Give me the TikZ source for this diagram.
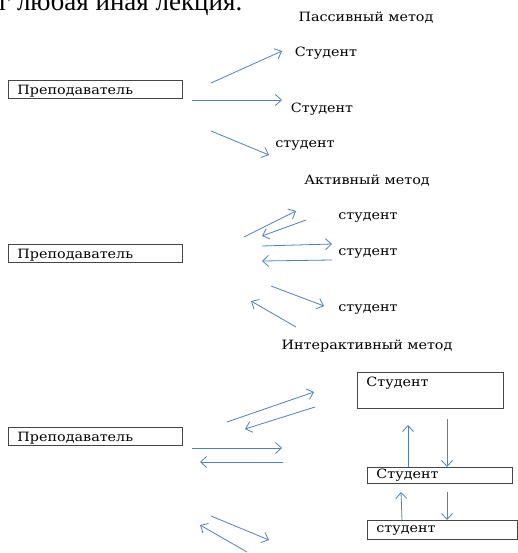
\documentclass[tikz,border=0pt]{standalone}
\usepackage{fontspec}
\setmainfont{Liberation Serif}
\newfontfamily\labelfont[FakeStretch=1.12]{DejaVu Serif}
\usetikzlibrary{arrows.meta}
\definecolor{arrowblue}{RGB}{79,129,189}
\definecolor{boxgray}{RGB}{70,70,70}

\tikzset{
  lbl/.style={inner sep=0pt, font=\labelfont\fontsize{12.8}{14}\selectfont},
  teacherbox/.style={draw=boxgray, line width=0.9pt, text width=156pt, inner xsep=9pt,
    inner ysep=1pt, text height=13.5pt, text depth=2.5pt, align=left, anchor=north west,
    font=\labelfont\fontsize{12.8}{14}\selectfont},
  studbox/.style={draw=boxgray, line width=0.9pt, inner xsep=9pt, inner ysep=2pt,
    align=left, anchor=north west, font=\labelfont\fontsize{12.8}{14}\selectfont},
  flow/.style={draw=arrowblue, line width=0.8pt, -{Straight Barb[length=6pt,width=11pt]}}
}

\begin{document}
\begin{tikzpicture}[x=1pt, y=-1pt]
\useasboundingbox (0,0) rectangle (517,553);
\fill[white] (0,0) rectangle (517,553);

% Intro line, cut at the top
\node[anchor=base west, inner sep=0pt, font=\fontsize{27}{30}\selectfont] (intro) at (-1,11) {г любая иная лекция.};

% Passive method
\node[lbl] (passive) at (366,18) {Пассивный метод};
\node[teacherbox] (teach1) at (8,80) {Преподаватель};
\node[lbl] (p1) at (326,53) {Студент};
\node[lbl] (p2) at (322,109) {Студент};
\node[lbl] (p3) at (305,146) {студент};
\coordinate (p1a) at (211,83);  \coordinate (p1b) at (282,51);
\coordinate (p2a) at (192,100); \coordinate (p2b) at (282,100);
\coordinate (p3a) at (211,131); \coordinate (p3b) at (269,155);
\draw[flow] (p1a) -- (p1b);
\draw[flow] (p2a) -- (p2b);
\draw[flow] (p3a) -- (p3b);

% Active method
\node[lbl] (active) at (367,181) {Активный метод};
\node[teacherbox] (teach2) at (8,244) {Преподаватель};
\node[lbl] (a1) at (368,218) {студент};
\node[lbl] (a2) at (368,254) {студент};
\node[lbl] (a3) at (368,310) {студент};
\coordinate (a1a) at (244,237); \coordinate (a1b) at (296,211);
\coordinate (a2a) at (306,220); \coordinate (a2b) at (262,236);
\coordinate (a3a) at (262,246); \coordinate (a3b) at (332,244);
\coordinate (a4a) at (332,260); \coordinate (a4b) at (262,261);
\coordinate (a5a) at (271,286); \coordinate (a5b) at (324,306);
\coordinate (a6a) at (296,327); \coordinate (a6b) at (251,301);
\draw[flow] (a1a) -- (a1b);
\draw[flow] (a2a) -- (a2b);
\draw[flow] (a3a) -- (a3b);
\draw[flow] (a4a) -- (a4b);
\draw[flow] (a5a) -- (a5b);
\draw[flow] (a6a) -- (a6b);

% Interactive method
\node[lbl] (inter) at (367,346) {Интерактивный метод};
\node[teacherbox] (teach3) at (8,427) {Преподаватель};
\node[studbox, text width=128pt, text height=12pt, text depth=20pt] (s1) at (357,372) {Студент};
\node[studbox, text width=127pt, text height=9pt, text depth=3pt] (s2) at (367,467) {Студент};
\node[studbox, text width=132pt, text height=10pt, text depth=5pt] (s3) at (367,520) {студент};
\coordinate (i1a) at (227,422); \coordinate (i1b) at (314,392);
\coordinate (i2a) at (315,407); \coordinate (i2b) at (245,429);
\coordinate (i3a) at (192,448); \coordinate (i3b) at (282,448);
\coordinate (i4a) at (283,462); \coordinate (i4b) at (200,462);
\coordinate (i5a) at (211,516); \coordinate (i5b) at (269,540);
\coordinate (i6a) at (247,552); \coordinate (i6b) at (200,525);
\draw[flow] (i1a) -- (i1b);
\draw[flow] (i2a) -- (i2b);
\draw[flow] (i3a) -- (i3b);
\draw[flow] (i4a) -- (i4b);
\draw[flow] (i5a) -- (i5b);
\draw[flow] (i6a) -- (i6b);
% between the student boxes
\draw[flow] (s2.north -| 408,0) -- (408,425);
\draw[flow] (447,419) -- (s2.north -| 447,0);
\draw[flow] (s3.north -| 402,0) -- (401,492);
\draw[flow] (447,492) -- (s3.north -| 447,0);
\end{tikzpicture}
\end{document}
